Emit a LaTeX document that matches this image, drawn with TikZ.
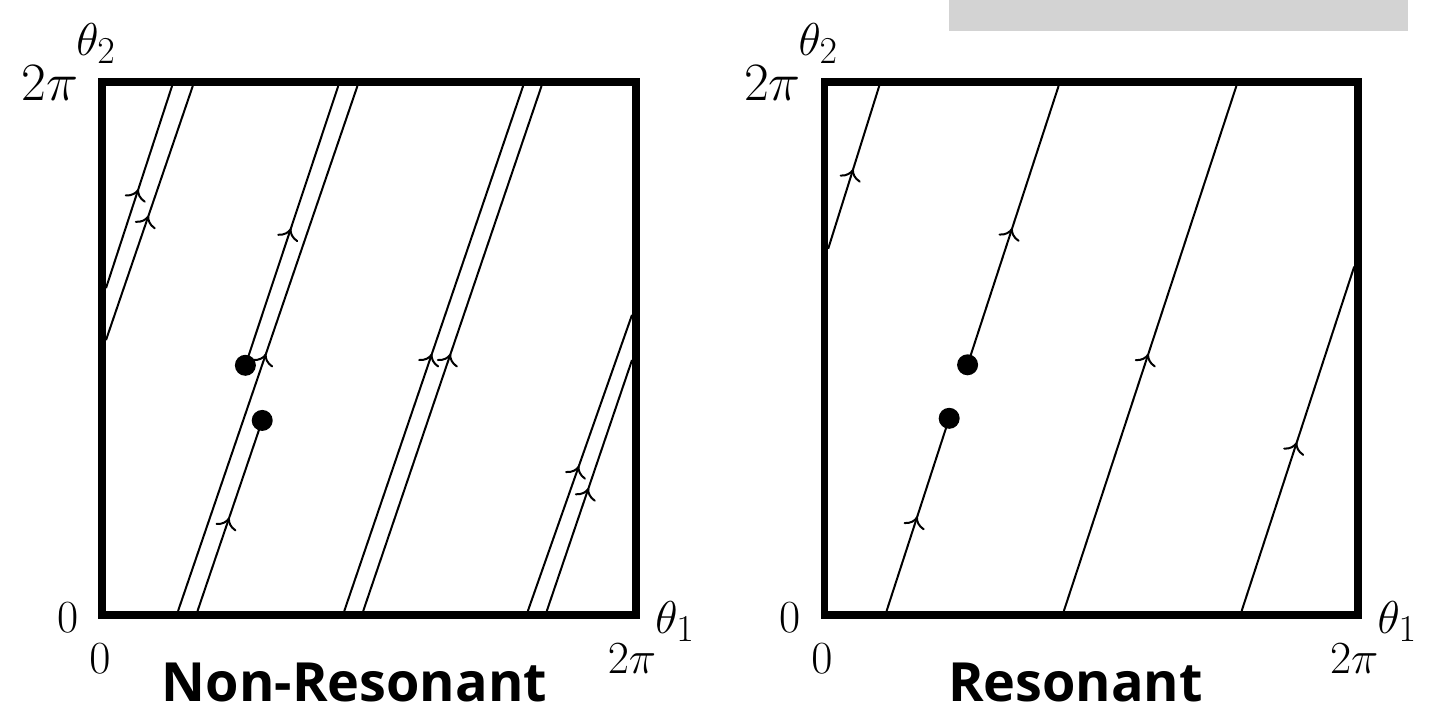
\RequirePackage{fix-cm}
\documentclass[tikz,border=0pt]{standalone}
\usepackage{fontspec}
\newfontfamily\titlefont{Open Sans}
\DeclareMathSizes{23}{23}{19}{14}
\DeclareMathSizes{27}{27}{21}{15}
\usetikzlibrary{decorations.markings,arrows.meta,calc}
\definecolor{boxgray}{RGB}{211,211,211}
\tikzset{
  traj/.style={line width=1pt, postaction={decorate},
    decoration={markings, mark=at position 0.49 with {\arrow{To[length=5.5pt,width=11pt,line width=1pt]}}}},
  frame/.style={line width=3.8pt},
  dot/.style={circle, fill=black, inner sep=0pt, minimum size=10.5pt},
  mlabel/.style={inner sep=0pt, font=\fontsize{23}{28}\selectfont},
  biglabel/.style={inner sep=0pt, font=\fontsize{27}{32}\selectfont},
  tlabel/.style={inner sep=0pt, font=\titlefont\bfseries\fontsize{27}{32}\selectfont},
}
\begin{document}
\begin{tikzpicture}
\useasboundingbox (0,0) rectangle (720.5pt,-353.5pt);
% grey box (cut at top)
\fill[boxgray] (474.5pt,0) rectangle (703.8pt,-15.35pt);

% ---------- left panel ----------
\begin{scope}[shift={(53pt,-305.5pt)}, x=263pt, y=262.5pt]
  \node[dot] (Lup) at (0.265,0.468) {};
  \node[dot] (Llo) at (0.297,0.363) {};
  \draw[traj] (0.137,0) -- (0.478,1);
  \draw[traj] (0.174,0) -- (Llo.center);
  \draw[traj] (Lup.center) -- (0.4415,1);
  \draw[traj] (0.453,0) -- (0.793,1);
  \draw[traj] (0.489,0) -- (0.828,1);
  \draw[traj] (0.802,0) -- (1,0.564);
  \draw[traj] (0.838,0) -- (1,0.478);
  \draw[traj] (0,0.615) -- (0.1256,1);
  \draw[traj] (0,0.516) -- (0.165,1);
  \draw[frame] ($(0,0)+(-1.9pt,-1.9pt)$) rectangle ($(1,1)+(1.9pt,1.9pt)$);
\end{scope}
\node[mlabel, anchor=base west] (Lt2) at (38pt,-27.5pt) {$\theta_2$};
\node[biglabel, anchor=base east] (Ltp) at (39.5pt,-50pt) {$2\pi$};
\node[mlabel, anchor=base east] (Lyo) at (39.25pt,-316pt) {$0$};
\node[mlabel, anchor=base west] (Lt1) at (327.5pt,-316.5pt) {$\theta_1$};
\node[mlabel, anchor=base] (Lxo) at (49.9pt,-336.5pt) {$0$};
\node[mlabel, anchor=base] (Lxp) at (316pt,-336.5pt) {$2\pi$};
\node[tlabel, anchor=base] (Ltitle) at (177.25pt,-350.5pt) {Non-Resonant};

% ---------- right panel ----------
\begin{scope}[shift={(414.1pt,-305.5pt)}, x=263pt, y=262.5pt]
  \node[dot] (Rup) at (0.265,0.469) {};
  \node[dot] (Rlo) at (0.230,0.367) {};
  \draw[traj] (0.111,0) -- (Rlo.center);
  \draw[traj] (Rup.center) -- (0.438,1);
  \draw[traj] (0.448,0) -- (0.776,1);
  \draw[traj] (0.786,0) -- (1,0.656);
  \draw[traj] (0,0.690) -- (0.097,1);
  \draw[frame] ($(0,0)+(-1.9pt,-1.9pt)$) rectangle ($(1,1)+(1.9pt,1.9pt)$);
\end{scope}
\node[mlabel, anchor=base west] (Rt2) at (399.1pt,-27.5pt) {$\theta_2$};
\node[biglabel, anchor=base east] (Rtp) at (400.6pt,-50pt) {$2\pi$};
\node[mlabel, anchor=base east] (Ryo) at (400.35pt,-316pt) {$0$};
\node[mlabel, anchor=base west] (Rt1) at (688.6pt,-316.5pt) {$\theta_1$};
\node[mlabel, anchor=base] (Rxo) at (411pt,-336.5pt) {$0$};
\node[mlabel, anchor=base] (Rxp) at (677.1pt,-336.5pt) {$2\pi$};
\node[tlabel, anchor=base] (Rtitle) at (537.75pt,-350.5pt) {Resonant};
\end{tikzpicture}
\end{document}
